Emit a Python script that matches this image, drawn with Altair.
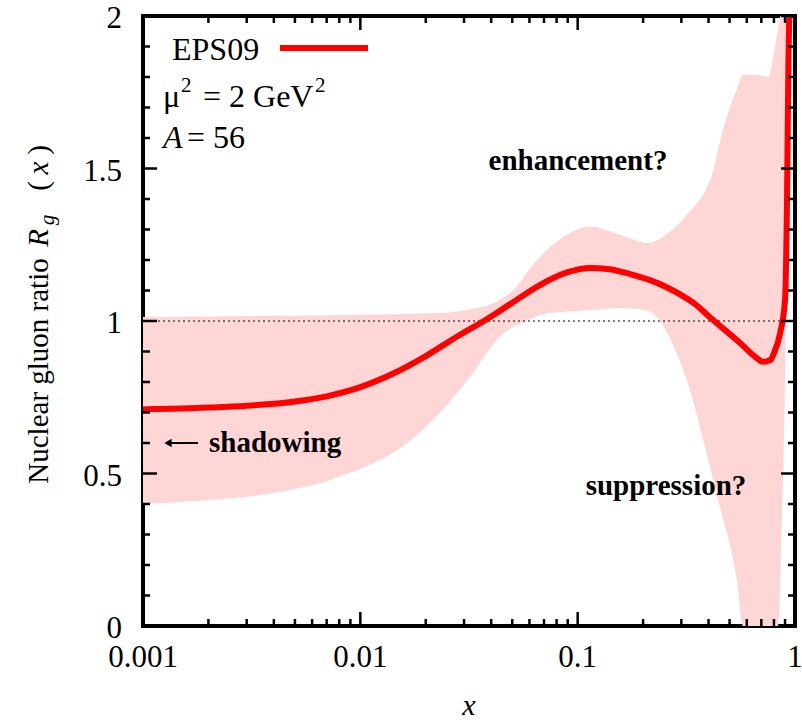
import altair as alt
import pandas as pd

FONT = "Liberation Serif"

# ---- data ----
line_x = [0.001, 0.002, 0.003, 0.005, 0.007, 0.010, 0.014, 0.020, 0.028, 0.038,
          0.050, 0.067, 0.09, 0.114, 0.14, 0.162, 0.194, 0.215, 0.258, 0.30, 0.34,
          0.42, 0.559, 0.65, 0.713, 0.77, 0.80, 0.854, 0.90, 0.919, 0.932, 0.95]
line_r = [0.710, 0.716, 0.722, 0.736, 0.753, 0.783, 0.826, 0.885, 0.950, 1.005,
          1.060, 1.118, 1.160, 1.174, 1.170, 1.160, 1.144, 1.134, 1.110, 1.085, 1.060,
          1.003, 0.928, 0.885, 0.866, 0.872, 0.895, 0.960, 1.070, 1.400, 1.830, 2.100]

band_x = [0.001, 0.002, 0.004, 0.008, 0.0164, 0.0233, 0.033, 0.044, 0.052, 0.06, 0.067,
          0.08, 0.1, 0.114, 0.16, 0.207, 0.24, 0.273, 0.32, 0.394, 0.42, 0.452, 0.54,
          0.577, 0.65, 0.752, 0.809, 0.836, 0.87, 0.90, 0.93, 0.95]
band_lo = [0.400, 0.413, 0.436, 0.489, 0.600, 0.700, 0.830, 0.950, 0.985, 1.005, 1.020,
           1.028, 1.034, 1.036, 1.043, 1.035, 1.000, 0.925, 0.800, 0.560, 0.480, 0.390, 0.150,
           0.0, 0.0, 0.0, 0.0, 0.0, 0.35, 0.80, 1.50, 2.00]
band_hi = [1.013, 1.015, 1.017, 1.020, 1.023, 1.026, 1.040, 1.070, 1.110, 1.170, 1.210,
           1.260, 1.300, 1.310, 1.280, 1.256, 1.270, 1.300, 1.350, 1.440, 1.490, 1.590, 1.760,
           1.807, 1.807, 1.800, 1.900, 1.960, 2.050, 2.500, 3.000, 3.200]

x_major = [0.001, 0.01, 0.1, 1.0]
x_major_labels = ["0.001", "0.01", "0.1", "1"]
x_minor = [0.002, 0.003, 0.004, 0.005, 0.006, 0.007, 0.008, 0.009,
           0.02, 0.03, 0.04, 0.05, 0.06, 0.07, 0.08, 0.09,
           0.2, 0.3, 0.4, 0.5, 0.6, 0.7, 0.8, 0.9]
y_major = [0.0, 0.5, 1.0, 1.5, 2.0]
y_major_labels = ["0", "0.5", "1", "1.5", "2"]
y_minor = [0.1, 0.2, 0.3, 0.4, 0.6, 0.7, 0.8, 0.9, 1.1, 1.2, 1.3, 1.4, 1.6, 1.7, 1.8, 1.9]
unity = [1.0]

W, H = 652, 610

xs = alt.Scale(type="log", domain=[0.001, 1], nice=False)
ys = alt.Scale(domain=[0, 2], nice=False, zero=False)

band_df = pd.DataFrame({"x": band_x, "lo": band_lo, "hi": band_hi})
line_df = pd.DataFrame({"x": line_x, "r": line_r})

band = alt.Chart(band_df).mark_area(color="#ffd6d6", interpolate="monotone", clip=True).encode(
    x=alt.X("x:Q", scale=xs, axis=None),
    y=alt.Y("lo:Q", scale=ys, axis=None),
    y2="hi:Q",
)

dotted = alt.Chart(pd.DataFrame({"y": unity})).mark_rule(
    color="black", strokeWidth=1, strokeDash=[2, 3]).encode(
    y=alt.Y("y:Q", scale=ys, axis=None))

line = alt.Chart(line_df).mark_line(color="#ff0000", strokeWidth=6, interpolate="monotone",
                                    clip=True).encode(
    x=alt.X("x:Q", scale=xs, axis=None),
    y=alt.Y("r:Q", scale=ys, axis=None),
)


def xticks(vals, length):
    df = pd.DataFrame({"v": vals})
    bot = alt.Chart(df).mark_rule(color="black", strokeWidth=2.5).encode(
        x=alt.X("v:Q", scale=xs, axis=None), y=alt.value(H), y2=alt.value(H - length))
    top = alt.Chart(df).mark_rule(color="black", strokeWidth=2.5).encode(
        x=alt.X("v:Q", scale=xs, axis=None), y=alt.value(0), y2=alt.value(length))
    return [bot, top]


def yticks(vals, length):
    df = pd.DataFrame({"v": vals})
    left = alt.Chart(df).mark_rule(color="black", strokeWidth=2.5).encode(
        y=alt.Y("v:Q", scale=ys, axis=None), x=alt.value(0), x2=alt.value(length))
    right = alt.Chart(df).mark_rule(color="black", strokeWidth=2.5).encode(
        y=alt.Y("v:Q", scale=ys, axis=None), x=alt.value(W), x2=alt.value(W - length))
    return [left, right]


# tick labels placed through the scales
xlab = alt.Chart(pd.DataFrame({"v": x_major, "t": x_major_labels})).mark_text(
    font=FONT, fontSize=31, align="center", baseline="top", color="black").encode(
    x=alt.X("v:Q", scale=xs, axis=None), y=alt.value(H + 17), text="t:N")
ylab = alt.Chart(pd.DataFrame({"v": y_major, "t": y_major_labels})).mark_text(
    font=FONT, fontSize=31, align="right", baseline="middle", dy=3, color="black").encode(
    y=alt.Y("v:Q", scale=ys, axis=None), x=alt.value(-21), text="t:N")


def txt(s, x, y, size=32, weight="normal", style="normal", align="left",
        baseline="alphabetic", angle=0):
    kw = dict(font=FONT, fontSize=size, fontWeight=weight, fontStyle=style,
              align=align, baseline=baseline, color="black")
    if angle:
        kw["angle"] = angle
    return alt.Chart(pd.DataFrame({"t": [s]})).mark_text(**kw).encode(
        text="t:N", x=alt.value(x), y=alt.value(y))


legend_line = alt.Chart(pd.DataFrame({"k": ["EPS09"]})).mark_rule(
    color="#ff0000", strokeWidth=6).encode(x=alt.value(137), x2=alt.value(225), y=alt.value(32))

arrow_shaft = alt.Chart(pd.DataFrame({"k": ["a"]})).mark_rule(
    color="black", strokeWidth=2).encode(x=alt.value(24), x2=alt.value(55), y=alt.value(427))
arrow_head = alt.Chart(pd.DataFrame({"k": ["a"]})).mark_point(
    shape="triangle-left", filled=True, size=70, color="black", opacity=1).encode(
    x=alt.value(25), y=alt.value(427))

texts = [
    txt("EPS09", 29, 44),
    txt("\u03bc", 20, 91),
    txt("2", 38, 76, size=21),
    txt("= 2 GeV", 60, 91),
    txt("2", 172, 76, size=21),
    txt("A", 20, 132, style="italic"),
    txt("= 56", 44, 132),
    txt("enhancement?", 435, 154, size=29, weight="bold", align="center"),
    txt("suppression?", 523, 479, size=29, weight="bold", align="center"),
    txt("shadowing", 66, 436, size=29, weight="bold"),
    txt("x", 326, 699, size=30, style="italic", align="center"),
    # y-axis title, rotated
    txt("Nuclear gluon ratio", -95, 355, size=29, align="center", angle=270),
    txt("R", -95, 222, size=29, style="italic", align="center", angle=270),
    txt("g", -89, 204, size=21, style="italic", align="center", angle=270),
    txt("(", -95, 170, size=29, align="center", angle=270),
    txt("x", -95, 152, size=29, style="italic", align="center", angle=270),
    txt(")", -95, 134, size=29, align="center", angle=270),
]

layers = [band, dotted, line]
layers += xticks(x_major, 14) + xticks(x_minor, 7)
layers += yticks(y_major, 14) + yticks(y_minor, 7)
layers += [xlab, ylab, legend_line, arrow_shaft, arrow_head] + texts

chart = alt.layer(*layers).properties(
    width=W, height=H,
    autosize=alt.AutoSizeParams(type="none"),
    padding={"left": 143, "top": 16, "right": 7, "bottom": 96},
    background="white",
).configure_view(stroke="black", strokeWidth=4)

chart.save("out.html", embed_options={"renderer": "svg", "actions": False})
